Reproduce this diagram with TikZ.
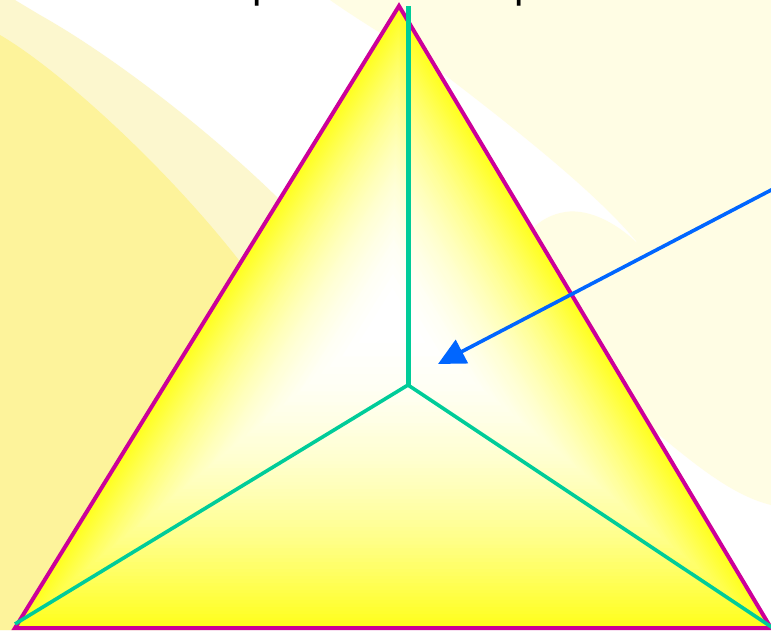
\documentclass[tikz,border=0pt]{standalone}
\usepackage{fontspec}
\setmainfont{Liberation Sans}
\usetikzlibrary{calc,arrows.meta}
\definecolor{triyellow}{RGB}{255,255,26}
\definecolor{edgemag}{RGB}{204,0,153}
\definecolor{gline}{RGB}{0,204,153}
\definecolor{arrblue}{RGB}{0,102,255}
\definecolor{bgyellow}{RGB}{253,243,155}
\definecolor{bgband}{RGB}{252,247,206}
\definecolor{bgcream}{RGB}{255,253,228}
\begin{document}
\begin{tikzpicture}[x=1pt,y=-1pt,
  triedge/.style={draw=edgemag, line width=4pt, line join=miter},
  spoke/.style={draw=gline, line width=3.6pt},
  mainspoke/.style={draw=gline, line width=5pt},
  pointer/.style={draw=arrblue, line width=3.6pt, -{Triangle[length=27pt,width=26pt]}},
  cutlabel/.style={font=\fontsize{42}{50}\selectfont, inner sep=0pt, anchor=base west, text=black}]
\useasboundingbox (0,0) rectangle (771,630);
\fill[white] (0,0) rectangle (771,630);
% background curves
\fill[bgcream] (330,0) .. controls (380,35) and (420,55) .. (445,75)
  .. controls (510,125) and (600,195) .. (640,246)
  .. controls (620,225) and (590,208) .. (565,212)
  .. controls (540,216) and (520,235) .. (520,260)
  -- (653,430) .. controls (690,460) and (730,495) .. (771,505)
  -- (771,0) -- cycle;
\fill[bgband] (0,0) -- (15,0) .. controls (28,8) .. (40,15)
  .. controls (120,60) and (220,140) .. (285,205) -- (250,630) -- (0,630) -- cycle;
\fill[bgyellow] (0,35) .. controls (60,70) and (170,170) .. (245,268)
  -- (200,630) -- (0,630) -- cycle;
% text cut at the top
\node[cutlabel] (t1) at (252.5,-3) {p};
\node[cutlabel] (t2) at (514.5,-3) {p};
% triangle
\coordinate (A) at (15,628);
\coordinate (B) at (399,6);
\coordinate (C) at (771,628);
\coordinate (gc) at (392,315);
\foreach \i in {0,...,89}{
  \pgfmathsetmacro\s{1-\i/90}
  \pgfmathtruncatemacro\p{100*\s*\s}
  \fill[triyellow!\p!white] ($(gc)!\s!(A)$) -- ($(gc)!\s!(B)$) -- ($(gc)!\s!(C)$) -- cycle;
}
\path[triedge] (A) -- (B) -- (C) -- cycle;
% spokes
\coordinate (O) at (408,385);
\coordinate (top) at (408,6);
\coordinate (lend) at (15,624);
\coordinate (rend) at (773,628);
\path[mainspoke] (top) -- (O);
\path[spoke] (O) -- (lend);
\path[spoke] (O) -- (rend);
% arrow
\coordinate (as) at (775,188);
\coordinate (ae) at (438,364);
\path[pointer] (as) -- (ae);
\end{tikzpicture}
\end{document}
